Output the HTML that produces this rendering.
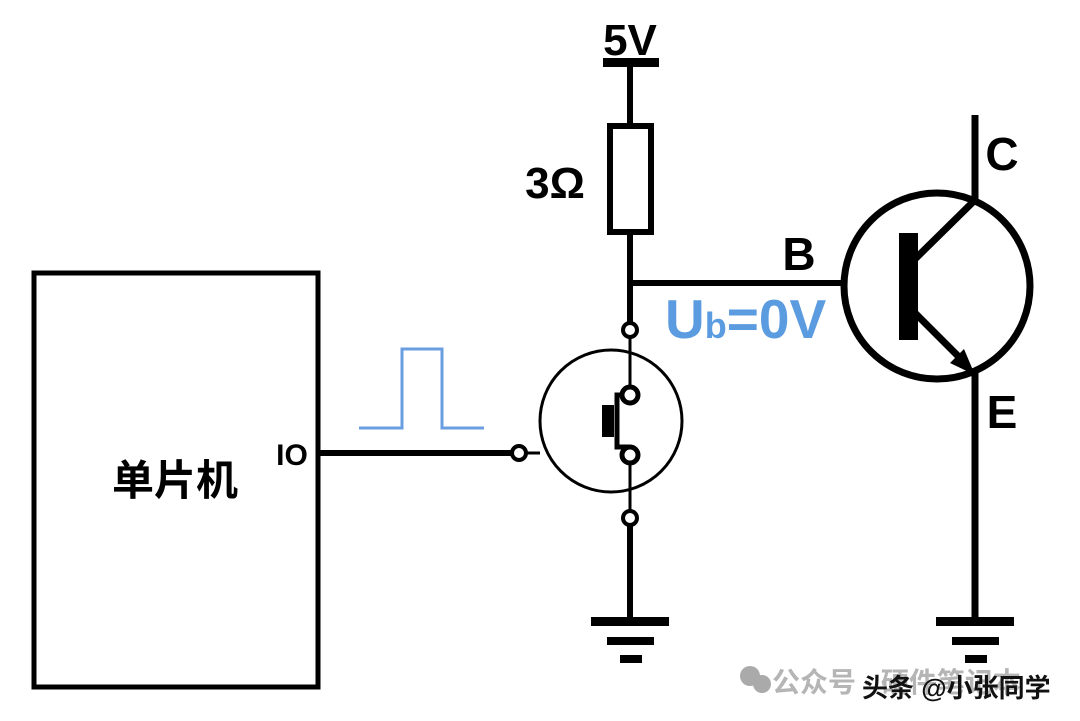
<!DOCTYPE html>
<html><head><meta charset="utf-8"><style>
html,body{margin:0;padding:0;background:#fff}
svg{display:block}
text{font-family:"Liberation Sans","Noto Sans CJK SC",sans-serif;font-weight:bold}
</style></head><body>
<svg width="1080" height="721" viewBox="0 0 1080 721" xmlns="http://www.w3.org/2000/svg">
<rect x="0" y="0" width="1080" height="721" fill="#fff"/>
<rect x="34" y="273" width="284" height="414" fill="none" stroke="#000" stroke-width="5"/>
<text x="175" y="495" font-size="42" text-anchor="middle" font-family="Noto Sans CJK SC,sans-serif">单片机</text>
<text x="292" y="465" font-size="30" text-anchor="middle" font-weight="normal">IO</text>
<line x1="318" y1="453" x2="512" y2="453" stroke="#000" stroke-width="6"/>
<polyline points="359,428 402,428 402,349 442,349 442,428 484,428" fill="none" stroke="#6a9ee0" stroke-width="3"/>
<text x="630" y="55" font-size="44" text-anchor="middle">5V</text>
<rect x="603" y="58" width="56" height="9" fill="#000"/>
<line x1="630" y1="62" x2="630" y2="126" stroke="#000" stroke-width="6"/>
<rect x="610" y="126" width="41" height="106" fill="#fff" stroke="#000" stroke-width="6"/>
<text x="555" y="198" font-size="44" text-anchor="middle">3Ω</text>
<line x1="630" y1="232" x2="630" y2="322" stroke="#000" stroke-width="6"/>
<line x1="630" y1="283" x2="846" y2="283" stroke="#000" stroke-width="6"/>
<text x="799" y="270" font-size="46" text-anchor="middle">B</text>
<text x="665" y="338" font-size="55" fill="#5b9be0">U<tspan font-size="36">b</tspan>=0V</text>
<circle cx="611" cy="421" r="71" fill="none" stroke="#000" stroke-width="3"/>
<line x1="630" y1="338" x2="630" y2="387" stroke="#000" stroke-width="3"/>
<line x1="630" y1="463" x2="630" y2="510" stroke="#000" stroke-width="3"/>
<line x1="525" y1="453" x2="540" y2="453" stroke="#000" stroke-width="3"/>
<path d="M630,395 H617 V447 H630" fill="none" stroke="#000" stroke-width="5"/>
<rect x="602" y="405" width="12" height="32" fill="#000"/>
<circle cx="630" cy="330" r="7" fill="#fff" stroke="#000" stroke-width="4"/>
<circle cx="630" cy="395" r="8" fill="#fff" stroke="#000" stroke-width="5"/>
<circle cx="630" cy="455" r="8" fill="#fff" stroke="#000" stroke-width="5"/>
<circle cx="630" cy="518" r="7" fill="#fff" stroke="#000" stroke-width="4"/>
<circle cx="519" cy="453" r="7" fill="#fff" stroke="#000" stroke-width="4"/>
<line x1="630" y1="526" x2="630" y2="620" stroke="#000" stroke-width="6"/>
<rect x="591" y="617" width="78" height="9" fill="#000"/>
<rect x="607" y="637" width="47" height="8" fill="#000"/>
<rect x="620" y="655" width="22" height="8" fill="#000"/>
<circle cx="937" cy="286" r="93" fill="none" stroke="#000" stroke-width="7"/>
<rect x="899" y="233" width="19" height="107" fill="#000"/>
<line x1="912" y1="262" x2="975" y2="200" stroke="#000" stroke-width="7"/>
<line x1="975" y1="115" x2="975" y2="200" stroke="#000" stroke-width="7"/>
<line x1="912" y1="310" x2="960" y2="358" stroke="#000" stroke-width="7"/>
<polygon points="975,375 950,363 964,349" fill="#000"/>
<line x1="975" y1="372" x2="975" y2="620" stroke="#000" stroke-width="7"/>
<text x="1002" y="170" font-size="46" text-anchor="middle">C</text>
<text x="1002" y="428" font-size="46" text-anchor="middle">E</text>
<rect x="936" y="617" width="78" height="9" fill="#000"/>
<rect x="952" y="637" width="47" height="8" fill="#000"/>
<rect x="965" y="655" width="22" height="8" fill="#000"/>
<circle cx="750" cy="676" r="10" fill="#aaa"/>
<circle cx="762" cy="684" r="9" fill="#aaa"/>
<text x="772" y="692" font-size="28" fill="#b5b5b5" font-weight="normal" font-family="Noto Sans CJK SC,sans-serif">公众号 · 硬件笔记本</text>
<text x="862" y="697" font-size="26" fill="#111" font-weight="normal" font-family="Noto Sans CJK SC,sans-serif">头条 @小张同学</text>
</svg>
</body></html>
